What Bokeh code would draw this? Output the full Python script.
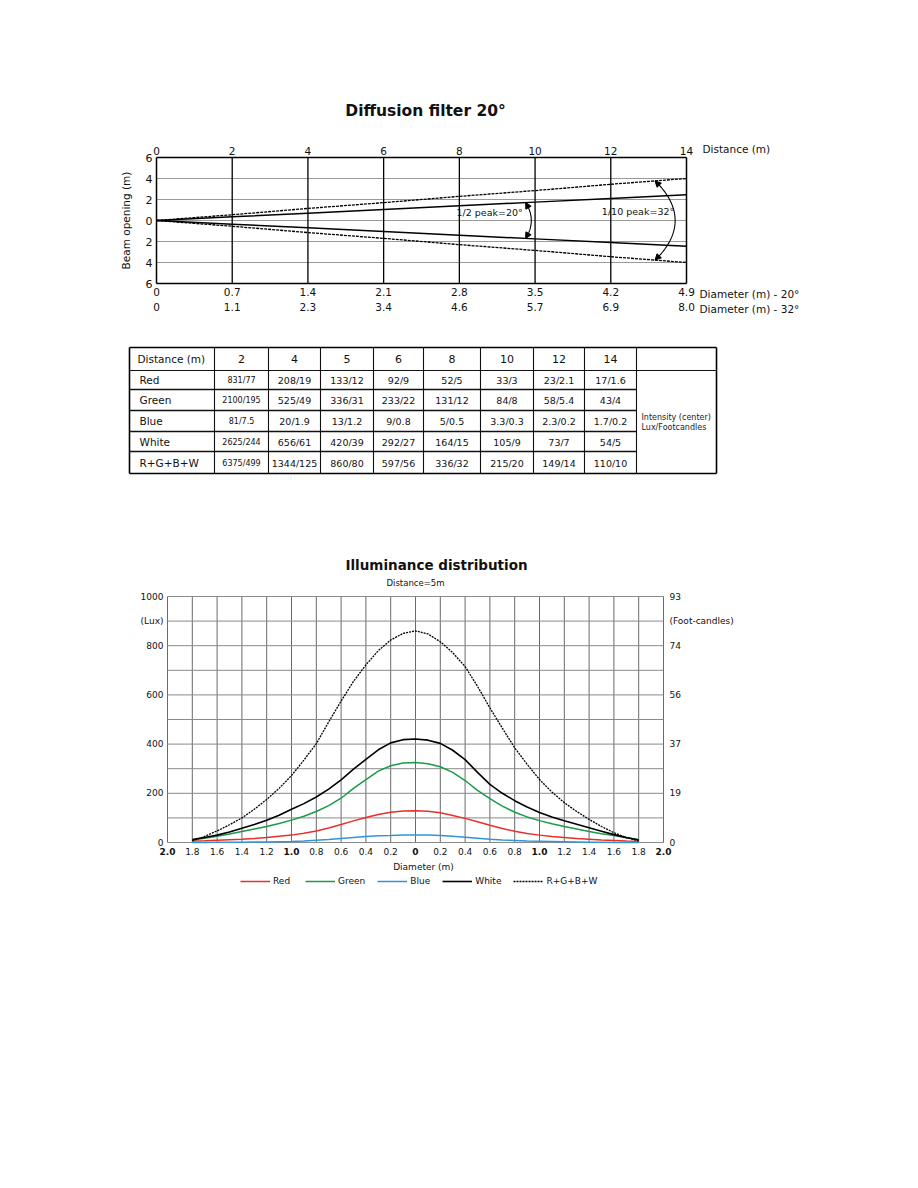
import numpy as np
from bokeh.plotting import figure
from bokeh.models import (Range1d, LinearAxis, FixedTicker, Label, Legend, LegendItem, Arrow, NormalHead)
from bokeh.layouts import column
from bokeh.core.properties import value
from bokeh.embed import file_html
from bokeh.resources import INLINE

FONT = "DejaVu Sans"
TXT = "#111111"

# ---------------- Beam diagram data ----------------
distance_m = [0, 2, 4, 6, 8, 10, 12, 14]
diam_20 = [0, 0.7, 1.4, 2.1, 2.8, 3.5, 4.2, 4.9]
diam_32 = [0, 1.1, 2.3, 3.4, 4.6, 5.7, 6.9, 8.0]
beam_y_ticks = [-6, -4, -2, 0, 2, 4, 6]
half_peak_angle = 20
tenth_peak_angle = 32

# ---------------- Table data ----------------
tbl_header = "Distance (m)"
tbl_distances = ["2", "4", "5", "6", "8", "10", "12", "14"]
tbl_rows = ["Red", "Green", "Blue", "White", "R+G+B+W"]
tbl_red = ["831/77", "208/19", "133/12", "92/9", "52/5", "33/3", "23/2.1", "17/1.6"]
tbl_green = ["2100/195", "525/49", "336/31", "233/22", "131/12", "84/8", "58/5.4", "43/4"]
tbl_blue = ["81/7.5", "20/1.9", "13/1.2", "9/0.8", "5/0.5", "3.3/0.3", "2.3/0.2", "1.7/0.2"]
tbl_white = ["2625/244", "656/61", "420/39", "292/27", "164/15", "105/9", "73/7", "54/5"]
tbl_rgbw = ["6375/499", "1344/125", "860/80", "597/56", "336/32", "215/20", "149/14", "110/10"]

# ---------------- Illuminance data (distance 5 m), read every 0.1 m ----------------
diam_pos = [-1.8, -1.7, -1.6, -1.5, -1.4, -1.3, -1.2, -1.1, -1.0, -0.9, -0.8, -0.7, -0.6,
            -0.5, -0.4, -0.3, -0.2, -0.1, 0.0, 0.1, 0.2, 0.3, 0.4, 0.5, 0.6, 0.7, 0.8,
            0.9, 1.0, 1.1, 1.2, 1.3, 1.4, 1.5, 1.6, 1.7, 1.8]
lux_rgbw = [7, 25, 47, 72, 100, 135, 175, 220, 272, 335, 402, 490, 575, 655, 722, 780, 823, 850,
            860, 848, 816, 772, 715, 635, 547, 465, 385, 318, 256, 205, 162, 126, 94, 65, 40, 20, 7]
lux_white = [12, 20, 30, 43, 58, 73, 90, 111, 135, 158, 185, 217, 255, 298, 338, 377, 405, 418,
             421, 416, 403, 375, 337, 285, 236, 200, 170, 144, 122, 104, 88, 74, 60, 46, 32, 20, 10]
lux_green = [10, 17, 25, 35, 45, 55, 65, 77, 91, 107, 126, 150, 180, 220, 256, 290, 312, 323,
             325, 320, 308, 285, 252, 212, 178, 148, 123, 104, 89, 76, 65, 55, 45, 36, 28, 19, 12]
lux_red = [6, 7, 9, 11, 13, 16, 20, 25, 30, 38, 47, 59, 73, 88, 102, 114, 123, 128,
           129, 127, 121, 110, 98, 84, 70, 57, 46, 37, 30, 24, 20, 16, 13, 10, 8, 6, 5]
lux_blue = [0, 0, 1, 1, 1, 2, 2, 3, 4, 6, 9, 12, 16, 20, 24, 27, 28, 30,
            30, 30, 28, 25, 21, 17, 13, 10, 8, 6, 5, 4, 3, 2, 1, 1, 0, 0, 0]
lux_ticks = [0, 200, 400, 600, 800, 1000]
fc_labels = ["0", "19", "37", "56", "74", "93"]
x_ticks = [round(-2 + 0.2 * i, 1) for i in range(21)]
bold_ticks = [-2.0, -1.0, 0.0, 1.0, 2.0]


def fmt(v):
    return "0" if v == 0 else f"{v:.1f}"


def span(d0, p0, d1, p1, pa, pb):
    """data values at pixel pa and pb given two anchors (layout helper)."""
    s = (p1 - p0) / (d1 - d0)
    return d0 + (pa - p0) / s, d0 + (pb - p0) / s


def style_axis(ax, size="10.5px", standoff=3):
    ax.major_tick_out = 0
    ax.major_tick_in = 0
    ax.minor_tick_out = 0
    ax.minor_tick_in = 0
    ax.axis_line_color = None
    ax.major_label_text_font = FONT
    ax.major_label_text_font_size = size
    ax.major_label_text_color = TXT
    ax.major_label_standoff = standoff


def lab(p, x, y, text, dx=0, dy=0, size="10.5px", bold=False, align="left", angle=0.0):
    p.add_layout(Label(x=x, y=y, x_offset=dx, y_offset=dy, text=text, text_font=FONT,
                       text_font_size=size, text_font_style="bold" if bold else "normal",
                       text_align=align, text_baseline="middle", text_color=TXT, angle=angle))


W = 900
H1, H2, H3 = 330, 160, 420
TOP1, TOP2, TOP3 = 0, H1, H1 + H2

# =============== Figure 1: beam diagram ===============
xs1 = span(0, 156, 14, 686, 0, W)
yb1, yt1 = span(0, 220 - TOP1, 6, 157 - TOP1, H1, 0)
p1 = figure(width=W, height=H1, x_range=Range1d(*xs1), y_range=Range1d(yb1, yt1),
            output_backend="svg", toolbar_location=None, x_axis_location=None, y_axis_location=None,
            min_border_left=0, min_border_right=0, min_border_top=0, min_border_bottom=0)
p1.outline_line_color = None
p1.grid.visible = False

ymin, ymax = beam_y_ticks[0], beam_y_ticks[-1]
dmin, dmax = distance_m[0], distance_m[-1]
inner_y = beam_y_ticks[1:-1]
p1.segment(x0=[dmin] * len(inner_y), y0=inner_y, x1=[dmax] * len(inner_y), y1=inner_y,
           line_color="#9a9a9a", line_width=1)
inner_x = distance_m[1:-1]
p1.segment(x0=inner_x, y0=[ymin] * len(inner_x), x1=inner_x, y1=[ymax] * len(inner_x),
           line_color="black", line_width=1.3)
p1.segment(x0=[dmin, dmin, dmin, dmax], y0=[ymin, ymax, ymin, ymin],
           x1=[dmax, dmax, dmin, dmax], y1=[ymin, ymax, ymax, ymax], line_color="black", line_width=1.5)

top = LinearAxis(fixed_location=ymax, ticker=FixedTicker(ticks=distance_m))
style_axis(top, standoff=3)
p1.add_layout(top, "above")

for dia, so in [(diam_20, 4), (diam_32, 19)]:
    a = LinearAxis(fixed_location=ymin, ticker=FixedTicker(ticks=distance_m),
                   major_label_overrides={d: fmt(v) for d, v in zip(distance_m, dia)})
    style_axis(a, standoff=so)
    p1.add_layout(a, "below")

ly = LinearAxis(fixed_location=dmin, ticker=FixedTicker(ticks=beam_y_ticks),
                major_label_overrides={t: str(abs(t)) for t in beam_y_ticks})
style_axis(ly, size="11px", standoff=4)
p1.add_layout(ly, "left")
lab(p1, dmin, 0, "Beam opening (m)", dx=-31, size="10.5px", align="center", angle=np.pi / 2)

r20 = [d / 2 for d in diam_20]
r32 = [d / 2 for d in diam_32]
p1.line(distance_m, r20, line_color="black", line_width=1.5)
p1.line(distance_m, [-r for r in r20], line_color="black", line_width=1.5)
p1.line(distance_m, r32, line_color="black", line_width=1.3, line_dash="3 1")
p1.line(distance_m, [-r for r in r32], line_color="black", line_width=1.3, line_dash="3 1")

for ang, R in [(half_peak_angle, 9.9), (tenth_peak_angle, 13.7)]:
    h = ang / 2.0
    th = np.radians(np.linspace(-h, h, 60))
    p1.line(R * np.cos(th), R * np.sin(th), line_color="black", line_width=1.1)
    for s in (1, -1):
        a0 = np.radians(s * (h - 2.5))
        a1 = np.radians(s * h)
        p1.add_layout(Arrow(end=NormalHead(size=6, fill_color="black", line_color="black"),
                            x_start=R * np.cos(a0), y_start=R * np.sin(a0),
                            x_end=R * np.cos(a1), y_end=R * np.sin(a1),
                            line_color="black", line_width=1))

lab(p1, 8.8, 0.76, "1/2 peak=20°", size="9.5px", align="center")
lab(p1, 12.72, 0.85, "1/10 peak=32°", size="9.5px", align="center")
lab(p1, 7, ymax, "Diffusion filter 20°", dx=4, dy=47, size="15.5px", bold=True, align="center")
lab(p1, dmax, ymax, "Distance (m)", dx=16, dy=9)
lab(p1, dmax, ymin, "Diameter (m) - 20°", dx=13, dy=-10)
lab(p1, dmax, ymin, "Diameter (m) - 32°", dx=13, dy=-25)

# =============== Figure 2: table ===============
p2 = figure(width=W, height=H2, x_range=Range1d(0, W), y_range=Range1d(TOP2 + H2, TOP2),
            output_backend="svg", toolbar_location=None, x_axis_location=None, y_axis_location=None,
            min_border_left=0, min_border_right=0, min_border_top=0, min_border_bottom=0)
p2.grid.visible = False
p2.outline_line_color = None

col_edges = [129, 214, 268, 320, 373, 423, 480, 533, 584, 636, 716]
row_edges = [347, 370, 389, 410, 431, 451, 473]
x0, x1 = col_edges[0], col_edges[-1]
y0, y1 = row_edges[0], row_edges[-1]

p2.segment(x0=[x0, x0, x0, x1], y0=[y0, y1, y0, y0], x1=[x1, x1, x0, x1], y1=[y0, y1, y1, y1],
           line_color="black", line_width=1.6)
nv = len(col_edges) - 2
p2.segment(x0=col_edges[1:-1], y0=[y0] * nv, x1=col_edges[1:-1], y1=[y1] * nv,
           line_color="#111", line_width=1.1)
p2.segment(x0=[x0], y0=[row_edges[1]], x1=[x1], y1=[row_edges[1]], line_color="#111", line_width=1.2)
nh = len(row_edges) - 3
p2.segment(x0=[x0] * nh, y0=row_edges[2:-1], x1=[col_edges[-2]] * nh, y1=row_edges[2:-1],
           line_color="#111", line_width=1.3)

mids_x = [(col_edges[i] + col_edges[i + 1]) / 2 for i in range(len(col_edges) - 1)]
mids_y = [(row_edges[i] + row_edges[i + 1]) / 2 for i in range(len(row_edges) - 1)]

p2.text(x=[col_edges[0] + 8], y=[mids_y[0]], text=[tbl_header], text_font=value(FONT),
        text_font_size="10.5px", text_align="left", text_baseline="middle", text_color=TXT)
p2.text(x=mids_x[1:9], y=[mids_y[0]] * 8, text=tbl_distances, text_font=value(FONT),
        text_font_size="11px", text_align="center", text_baseline="middle", text_color=TXT)
p2.text(x=[col_edges[0] + 10] * 5, y=mids_y[1:], text=tbl_rows, text_font=value(FONT),
        text_font_size="10.5px", text_align="left", text_baseline="middle", text_color=TXT)
for ri, vals in enumerate([tbl_red, tbl_green, tbl_blue, tbl_white, tbl_rgbw]):
    yy = mids_y[ri + 1] + 0.5
    p2.text(x=[mids_x[1]], y=[yy], text=[vals[0]], text_font=value(FONT), text_font_size="8px",
            text_align="center", text_baseline="middle", text_color=TXT)
    p2.text(x=mids_x[2:9], y=[yy] * 7, text=vals[1:], text_font=value(FONT),
            text_font_size="9.5px", text_align="center", text_baseline="middle", text_color=TXT)
p2.text(x=[col_edges[-2] + 5] * 2, y=[417, 427], text=["Intensity (center)", "Lux/Footcandles"],
        text_font=value(FONT), text_font_size="8px", text_align="left", text_baseline="middle",
        text_color="#222")

# =============== Figure 3: illuminance distribution ===============
xs3 = span(-2, 167, 2, 663, 0, W)
yb3, yt3 = span(0, 842 - TOP3, 1000, 596 - TOP3, H3, 0)
p3 = figure(width=W, height=H3, x_range=Range1d(*xs3), y_range=Range1d(yb3, yt3),
            output_backend="svg", toolbar_location=None, x_axis_location=None, y_axis_location=None,
            min_border_left=0, min_border_right=0, min_border_top=0, min_border_bottom=0)
p3.grid.visible = False
p3.outline_line_color = None

grid_y = list(range(0, 1001, 100))
p3.segment(x0=x_ticks, y0=[0] * len(x_ticks), x1=x_ticks, y1=[1000] * len(x_ticks),
           line_color="#6a6a6a", line_width=1)
p3.segment(x0=[x_ticks[0]] * len(grid_y), y0=grid_y, x1=[x_ticks[-1]] * len(grid_y), y1=grid_y,
           line_color="#8a8a8a", line_width=1)

xa = LinearAxis(fixed_location=0, ticker=FixedTicker(ticks=x_ticks),
                major_label_overrides={t: ("" if t in bold_ticks else f"{abs(t):.1f}") for t in x_ticks})
style_axis(xa, size="9px", standoff=5)
p3.add_layout(xa, "below")
xb = LinearAxis(fixed_location=0, ticker=FixedTicker(ticks=bold_ticks),
                major_label_overrides={t: ("0" if t == 0 else f"{abs(t):.1f}") for t in bold_ticks})
style_axis(xb, size="9px", standoff=5)
xb.major_label_text_font_style = "bold"
p3.add_layout(xb, "below")

left = LinearAxis(fixed_location=-2, ticker=FixedTicker(ticks=lux_ticks + [900]),
                  major_label_overrides={**{t: str(t) for t in lux_ticks}, 900: "(Lux)"})
style_axis(left, size="9px", standoff=4)
p3.add_layout(left, "left")
right = LinearAxis(fixed_location=2, ticker=FixedTicker(ticks=lux_ticks + [900]),
                   major_label_overrides={**{t: l for t, l in zip(lux_ticks, fc_labels)}, 900: "(Foot-candles)"})
style_axis(right, size="9px", standoff=6)
p3.add_layout(right, "right")

r_red = p3.line(diam_pos, lux_red, line_color="#e8302a", line_width=1.5)
r_green = p3.line(diam_pos, lux_green, line_color="#1a9a4a", line_width=1.5)
r_blue = p3.line(diam_pos, lux_blue, line_color="#2e96d8", line_width=1.5)
r_white = p3.line(diam_pos, lux_white, line_color="black", line_width=1.6)
r_rgbw = p3.line(diam_pos, lux_rgbw, line_color="black", line_width=1.3, line_dash="2 1")

lab(p3, 0, 0, "Diameter (m)", dx=8, dy=-24, size="9px", align="center")
lab(p3, 0, 1000, "Illuminance distribution", dx=21, dy=32, size="13.5px", bold=True, align="center")
lab(p3, 0, 1000, "Distance=5m", dx=0, dy=14, size="8.5px", align="center")

legend = Legend(items=[LegendItem(label="Red", renderers=[r_red]),
                       LegendItem(label="Green", renderers=[r_green]),
                       LegendItem(label="Blue", renderers=[r_blue]),
                       LegendItem(label="White", renderers=[r_white]),
                       LegendItem(label="R+G+B+W", renderers=[r_rgbw])],
                orientation="horizontal", location=(240, TOP3 + H3 - 887), glyph_width=30, glyph_height=10,
                label_standoff=3, spacing=12, padding=0, margin=0, label_height=12,
                border_line_color=None, background_fill_alpha=0,
                label_text_font=FONT, label_text_font_size="9px", label_text_color=TXT)
p3.add_layout(legend)

layout = column(p1, p2, p3, spacing=0)
open("out.html", "w").write(file_html(layout, INLINE))
